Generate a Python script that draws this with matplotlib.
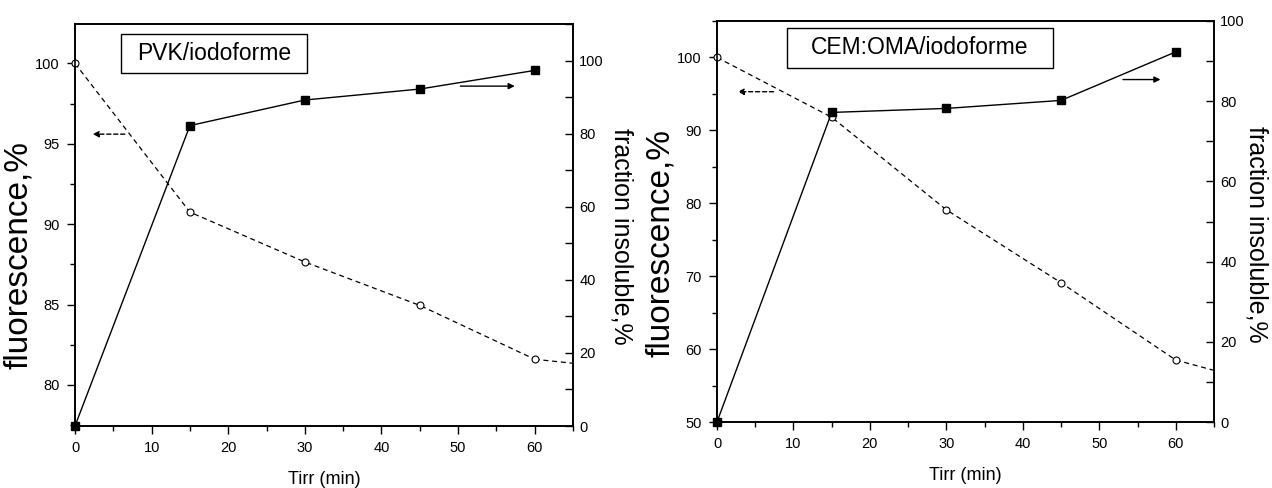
import matplotlib
matplotlib.use("Agg")
import matplotlib.pyplot as plt
from matplotlib.ticker import MultipleLocator
from matplotlib.patches import Rectangle

# ---------------- data ----------------
time_min = [0, 15, 30, 45, 60]

# Left panel: PVK/iodoforme
pvk_fluo = [100.0, 90.75, 87.65, 84.95, 81.6]
pvk_fluo_tail_x = [60, 66]
pvk_fluo_tail_y = [81.6, 81.3]
pvk_insol = [0.0, 82.2, 89.2, 92.2, 97.3]

# Right panel: CEM:OMA/iodoforme
cem_fluo = [100.0, 91.8, 79.1, 69.1, 58.5]
cem_fluo_tail_x = [60, 66]
cem_fluo_tail_y = [58.5, 56.8]
cem_insol = [0.0, 77.2, 78.2, 80.2, 92.3]

titles = ["PVK/iodoforme", "CEM:OMA/iodoforme"]
xlabel = "Tirr (min)"
ylabel_left = "fluorescence,%"
ylabel_right = "fraction insoluble,%"

plt.rcParams["font.family"] = ["Liberation Sans", "DejaVu Sans"]

W, H = 1272, 488
fig = plt.figure(figsize=(W / 100, H / 100), dpi=100)


def make_panel(rect, fluo, tail_x, tail_y, insol, title, ylim_l, ylim_r,
               lmaj, lmin, box, arrL, arrR, ylab_y, rpad):
    ax = fig.add_axes(rect)
    ax2 = ax.twinx()
    ax.set_xlim(0, 65)
    ax.set_ylim(*ylim_l)
    ax2.set_ylim(*ylim_r)

    # fluorescence (dashed, open circles)
    ax.plot(tail_x, tail_y, color="black", lw=0.9, ls=(0, (4, 3)), clip_on=True)
    ax.plot(time_min, fluo, color="black", lw=0.9, ls=(0, (4, 3)),
            marker="o", ms=5, mfc="white", mec="black", mew=0.8, clip_on=False, zorder=5)
    # insoluble fraction (solid, filled squares)
    ax2.plot(time_min, insol, color="black", lw=1.0, ls="-",
             marker="s", ms=5.5, mfc="black", mec="black", clip_on=False, zorder=6)

    # arrows
    ax.annotate("", xy=(arrL[1], arrL[2]), xytext=(arrL[0], arrL[2]),
                arrowprops=dict(arrowstyle="-|>", color="black", lw=1.0, ls=(0, (3, 2)),
                                mutation_scale=9, shrinkA=0, shrinkB=0))
    ax2.annotate("", xy=(arrR[1], arrR[2]), xytext=(arrR[0], arrR[2]),
                 arrowprops=dict(arrowstyle="-|>", color="black", lw=1.0,
                                 mutation_scale=9, shrinkA=0, shrinkB=0))

    # ticks
    ax.xaxis.set_major_locator(MultipleLocator(10))
    ax.xaxis.set_minor_locator(MultipleLocator(5))
    ax.yaxis.set_major_locator(MultipleLocator(lmaj))
    ax.yaxis.set_minor_locator(MultipleLocator(lmin))
    ax2.yaxis.set_major_locator(MultipleLocator(20))
    ax2.yaxis.set_minor_locator(MultipleLocator(10))
    ax.tick_params(axis="both", which="major", direction="out", length=6, width=1,
                   labelsize=10.5, pad=5, top=False, right=False)
    ax.tick_params(axis="both", which="minor", direction="out", length=3.5, width=1,
                   top=False, right=False)
    ax2.tick_params(axis="y", which="major", direction="in", length=6, width=1,
                    labelsize=10.5, pad=4.5)
    ax2.tick_params(axis="y", which="minor", direction="in", length=6, width=1)
    for a in (ax, ax2):
        for s in a.spines.values():
            s.set_linewidth(1.2)

    ax.set_xlabel(xlabel, fontsize=13, labelpad=11)
    ax.set_ylabel(ylabel_left, fontsize=24, labelpad=1)
    ax.yaxis.label.set_y(ylab_y[0])
    ax2.set_ylabel(ylabel_right, fontsize=18, rotation=270, labelpad=rpad)
    ax2.yaxis.label.set_y(ylab_y[1])

    x0, x1, y0, y1 = box
    ax.add_patch(Rectangle((x0, y0), x1 - x0, y1 - y0, transform=ax.transAxes,
                           fc="white", ec="black", lw=1.0, zorder=9))
    ax.text((x0 + x1) / 2, (y0 + y1) / 2, title, transform=ax.transAxes,
            ha="center", va="center", fontsize=16.5, zorder=10)
    return ax, ax2


make_panel([75 / W, 1 - 426 / H, 498 / W, 402 / H], pvk_fluo, pvk_fluo_tail_x, pvk_fluo_tail_y,
           pvk_insol, titles[0], (77.45, 102.45), (0, 110), 5, 2.5,
           (0.092, 0.466, 0.878, 0.975), (6.5, 2.3, 95.6), (50.3, 57.4, 93.0),
           (0.425, 0.473), 21)

make_panel([717 / W, 1 - 422 / H, 497 / W, 401 / H], cem_fluo, cem_fluo_tail_x, cem_fluo_tail_y,
           cem_insol, titles[1], (50, 105), (0, 100), 10, 5,
           (0.141, 0.676, 0.883, 0.983), (7.4, 2.7, 95.3), (53.1, 58.0, 85.4),
           (0.446, 0.469), 17)

fig.savefig("out.png", dpi=100)
